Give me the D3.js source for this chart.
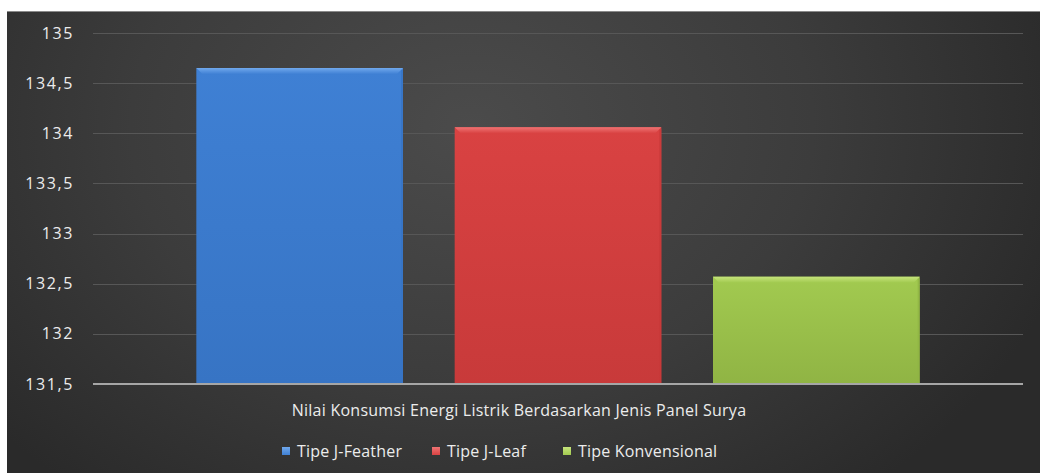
<!DOCTYPE html>
<html>
<head>
<meta charset="utf-8">
<script src="https://cdn.jsdelivr.net/npm/d3@7"></script>
<style>
  html, body { margin: 0; padding: 0; background: #fff; }
  svg { display: block; }
  text { font-family: "Open Sans", "Noto Sans", sans-serif; }
</style>
</head>
<body>
<div id="chart"></div>
<script>
const width = 1040;
const height = 473;

// data
var series = ['Tipe J-Feather', 'Tipe J-Leaf', 'Tipe Konvensional'];
var values = [134.65, 134.06, 132.57];
var yTicks = [131.5, 132, 132.5, 133, 133.5, 134, 134.5, 135];
var categoryTitle = 'Nilai Konsumsi Energi Listrik Berdasarkan Jenis Panel Surya';

var colors = [
  {main: '#3f80d4', light: '#70a8ec', dark: '#3774c4'},
  {main: '#d94242', light: '#ef7474', dark: '#c83a3a'},
  {main: '#a2ca50', light: '#c6e47c', dark: '#90b444'}
];

var svg = d3.select('#chart').append('svg')
  .attr('width', width)
  .attr('height', height);

var defs = svg.append('defs');

// dark chart background, brighter around the middle
var bg = defs.append('radialGradient')
  .attr('id', 'bg')
  .attr('cx', '45%').attr('cy', '25%')
  .attr('r', '60%')
  .attr('gradientTransform', 'translate(0.45,0.25) scale(1,1.7) translate(-0.45,-0.25)');
bg.append('stop').attr('offset', '0%').attr('stop-color', '#4b4b4b');
bg.append('stop').attr('offset', '55%').attr('stop-color', '#3c3c3c');
bg.append('stop').attr('offset', '100%').attr('stop-color', '#2a2a2a');

colors.forEach(function(c, i) {
  var g = defs.append('linearGradient')
    .attr('id', 'bar' + i)
    .attr('x1', 0).attr('y1', 0).attr('x2', 0).attr('y2', 1);
  g.append('stop').attr('offset', '0%').attr('stop-color', c.main);
  g.append('stop').attr('offset', '100%').attr('stop-color', c.dark);
  var h = defs.append('linearGradient')
    .attr('id', 'hi' + i)
    .attr('x1', 0).attr('y1', 0).attr('x2', 0).attr('y2', 1);
  h.append('stop').attr('offset', '0%').attr('stop-color', c.light);
  h.append('stop').attr('offset', '100%').attr('stop-color', c.main);
});

// chart area
svg.append('rect')
  .attr('x', 7).attr('y', 11)
  .attr('width', width - 7).attr('height', height - 11)
  .attr('fill', 'url(#bg)');
svg.append('line')
  .attr('x1', 7).attr('x2', width)
  .attr('y1', 11.5).attr('y2', 11.5)
  .attr('stroke', '#8a8a8a')
  .attr('stroke-width', 1);

const margin = {left: 93, right: 1023, top: 33, bottom: 384};

var x = d3.scaleBand()
  .domain(series)
  .range([margin.left, margin.right])
  .paddingInner(0.2)
  .paddingOuter(0.4);

var y = d3.scaleLinear()
  .domain([131.5, 135])
  .range([margin.bottom, margin.top]);

// gridlines
svg.append('g')
  .selectAll('line')
  .data(yTicks.slice(1))
  .enter()
  .append('line')
  .attr('x1', margin.left).attr('x2', margin.right)
  .attr('y1', function(d) { return Math.round(y(d)) + 0.5; })
  .attr('y2', function(d) { return Math.round(y(d)) + 0.5; })
  .attr('stroke', '#575757')
  .attr('stroke-width', 1);

// y axis labels
var yAxis = d3.axisLeft(y)
  .tickValues(yTicks)
  .tickSize(0)
  .tickPadding(19)
  .tickFormat(function(d) { return String(d).replace('.', ','); });

svg.append('g')
  .attr('transform', 'translate(' + margin.left + ',0)')
  .call(yAxis)
  .call(function(g) { g.select('.domain').remove(); })
  .selectAll('text')
  .attr('fill', '#ececec')
  .style('font-size', '16px')
  .style('letter-spacing', '1.6px');

// bars
var bars = svg.append('g')
  .selectAll('g')
  .data(values)
  .enter()
  .append('g');

bars.append('rect')
  .attr('x', function(d, i) { return x(series[i]); })
  .attr('y', function(d) { return y(d); })
  .attr('width', x.bandwidth())
  .attr('height', function(d) { return y(131.5) - y(d); })
  .attr('fill', function(d, i) { return 'url(#bar' + i + ')'; });

// bevel on the top edge
bars.append('path')
  .attr('d', function(d, i) {
    var x0 = x(series[i]), x1 = x0 + x.bandwidth(), y0 = y(d), b = 6;
    return 'M' + x0 + ',' + y0 + 'L' + x1 + ',' + y0 +
      'L' + (x1 - b) + ',' + (y0 + b) + 'L' + (x0 + b) + ',' + (y0 + b) + 'Z';
  })
  .attr('fill', function(d, i) { return 'url(#hi' + i + ')'; });

// darker side edges
bars.append('rect')
  .attr('x', function(d, i) { return x(series[i]) + x.bandwidth() - 2; })
  .attr('y', function(d) { return y(d) + 2; })
  .attr('width', 2)
  .attr('height', function(d) { return y(131.5) - y(d) - 2; })
  .attr('fill', function(d, i) { return colors[i].dark; })
  .attr('opacity', 0.8);

// x axis line
svg.append('line')
  .attr('x1', margin.left).attr('x2', margin.right)
  .attr('y1', margin.bottom).attr('y2', margin.bottom)
  .attr('stroke', '#a6a6a6')
  .attr('stroke-width', 2);

// category title
svg.append('text')
  .attr('x', 519)
  .attr('y', 416)
  .attr('text-anchor', 'middle')
  .attr('fill', '#ececec')
  .style('font-size', '16px')
  .style('letter-spacing', '0.25px')
  .text(categoryTitle);

// legend
var legendX = [282, 432, 563];
var legend = svg.append('g')
  .selectAll('g')
  .data(series)
  .enter()
  .append('g')
  .attr('transform', function(d, i) { return 'translate(' + legendX[i] + ',451)'; });

legend.append('rect')
  .attr('x', 0).attr('y', -4)
  .attr('width', 8).attr('height', 8)
  .attr('fill', function(d, i) { return 'url(#hi' + i + ')'; });

legend.append('text')
  .attr('x', 15)
  .attr('y', 6)
  .attr('fill', '#ececec')
  .style('font-size', '16px')
  .style('letter-spacing', '0.2px')
  .text(function(d) { return d; });
</script>
</body>
</html>
